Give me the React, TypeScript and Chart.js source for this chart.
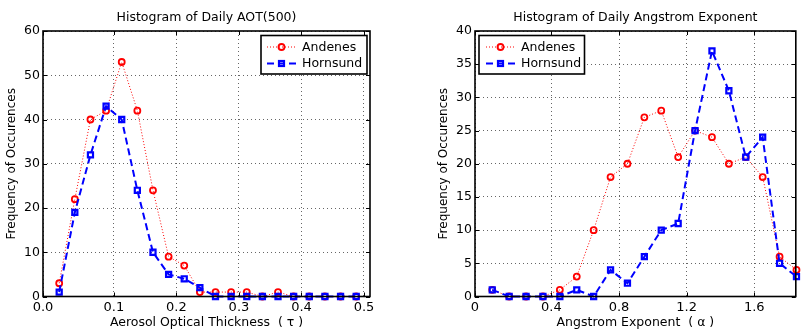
import React, { useEffect, useRef } from "react";
import { Chart, registerables } from "chart.js";

Chart.register(...registerables);

const FONT = "'DejaVu Sans', 'Liberation Sans', sans-serif";

// ---------- Left panel: AOT(500) ----------
const aotBins = [0.0125, 0.0375, 0.0625, 0.0875, 0.1125, 0.1375, 0.1625, 0.1875, 0.2125, 0.2375, 0.2625, 0.2875, 0.3125, 0.3375, 0.3625, 0.3875, 0.4125, 0.4375, 0.4625, 0.4875];
const aotAndenes = [3, 22, 40, 42, 53, 42, 24, 9, 7, 1, 1, 1, 1, 0, 1, 0, 0, 0, 0, 0];
const aotHornsund = [1, 19, 32, 43, 40, 24, 10, 5, 4, 2, 0, 0, 0, 0, 0, 0, 0, 0, 0, 0];
const aotXTicks = [0.1, 0.2, 0.3, 0.4, 0.5];
const aotXEdgeLabel = "0.0";

// ---------- Right panel: Angstrom exponent ----------
const angBins = [0.05, 0.15, 0.25, 0.35, 0.45, 0.55, 0.65, 0.75, 0.85, 0.95, 1.05, 1.15, 1.25, 1.35, 1.45, 1.55, 1.65, 1.75, 1.85];
const angAndenes = [1, 0, 0, 0, 1, 3, 10, 18, 20, 27, 28, 21, 25, 24, 20, 21, 18, 6, 4];
const angHornsund = [1, 0, 0, 0, 0, 1, 0, 4, 2, 6, 10, 11, 25, 37, 31, 21, 24, 5, 3];
const angXTicks = [0.4, 0.8, 1.2, 1.6];
const angXEdgeLabel = "0";

const seriesNames = ["Andenes", "Hornsund"];

type PanelCfg = {
  left: number;
  width: number;
  padLeft: number;
  padRight: number;
  xMin: number;
  xMax: number;
  xTicks: number[];
  xEdgeLabel: string;
  yMax: number;
  yStep: number;
  bins: number[];
  andenes: number[];
  hornsund: number[];
  title: string;
  xTitle: string;
  legend: { x0: number; y0: number; x1: number; y1: number; lx0: number; lx1: number; tx: number; rows: number[] };
};

const framePlugin = {
  id: "frame",
  afterDatasetsDraw(chart: any, _args: any, opts: any) {
    const { ctx, chartArea: a } = chart;
    const xs = chart.scales.x;
    const ys = chart.scales.y;
    ctx.save();
    ctx.setLineDash([]);
    // inward tick marks
    ctx.strokeStyle = "#000";
    ctx.lineWidth = 1;
    const tl = 4;
    xs.ticks.forEach((t: any) => {
      const px = Math.round(xs.getPixelForValue(t.value)) + 0.5;
      ctx.beginPath();
      ctx.moveTo(px, a.bottom);
      ctx.lineTo(px, a.bottom - tl);
      ctx.moveTo(px, a.top);
      ctx.lineTo(px, a.top + tl);
      ctx.stroke();
    });
    ys.ticks.forEach((t: any) => {
      const py = Math.round(ys.getPixelForValue(t.value)) + 0.5;
      ctx.beginPath();
      ctx.moveTo(a.left, py);
      ctx.lineTo(a.left + tl, py);
      ctx.moveTo(a.right, py);
      ctx.lineTo(a.right - tl, py);
      ctx.stroke();
    });
    // box
    ctx.lineWidth = 1.6;
    ctx.strokeRect(a.left, a.top, a.right - a.left, a.bottom - a.top);

    // legend
    const lg = opts.legend;
    ctx.fillStyle = "#fff";
    ctx.fillRect(lg.x0, lg.y0, lg.x1 - lg.x0, lg.y1 - lg.y0);
    ctx.strokeStyle = "#000";
    ctx.lineWidth = 1.6;
    ctx.strokeRect(lg.x0, lg.y0, lg.x1 - lg.x0, lg.y1 - lg.y0);
    const mx = (lg.lx0 + lg.lx1) / 2;
    seriesNames.forEach((name: string, i: number) => {
      const y = lg.rows[i];
      ctx.beginPath();
      if (i === 0) {
        ctx.strokeStyle = "#ff0000";
        ctx.lineWidth = 1;
        ctx.setLineDash([1, 2]);
      } else {
        ctx.strokeStyle = "#0000ff";
        ctx.lineWidth = 2;
        ctx.setLineDash([7, 4]);
      }
      ctx.moveTo(lg.lx0, y);
      ctx.lineTo(lg.lx1, y);
      ctx.stroke();
      ctx.setLineDash([]);
      if (i === 0) {
        ctx.lineWidth = 1.8;
        ctx.beginPath();
        ctx.arc(mx, y, 3, 0, Math.PI * 2);
        ctx.stroke();
      } else {
        ctx.lineWidth = 2.2;
        ctx.strokeRect(mx - 2.5, y - 2.5, 5, 5);
      }
      ctx.fillStyle = "#000";
      ctx.font = `12.5px ${FONT}`;
      ctx.textAlign = "left";
      ctx.textBaseline = "middle";
      ctx.fillText(name, lg.tx, y + 0.5);
    });

    // title
    ctx.fillStyle = "#000";
    ctx.font = `12.5px ${FONT}`;
    ctx.textAlign = "center";
    ctx.textBaseline = "alphabetic";
    ctx.fillText(opts.title, (a.left + a.right) / 2, 20.7);
    ctx.restore();
  },
};

function Panel({ cfg }: { cfg: PanelCfg }) {
  const ref = useRef<HTMLCanvasElement | null>(null);
  useEffect(() => {
    if (!ref.current) return;
    const xTickFont = { family: FONT, size: 13 };
    const yTickFont = { family: FONT, size: 12.5 };
    const chart = new Chart(ref.current, {
      type: "line",
      data: {
        datasets: [
          {
            label: seriesNames[1],
            data: cfg.bins.map((b, i) => ({ x: b, y: cfg.hornsund[i] })),
            borderColor: "#0000ff",
            borderWidth: 2,
            borderDash: [7, 4],
            pointStyle: "rect",
            pointRadius: 3.6,
            pointBorderWidth: 2.2,
            pointBorderColor: "#0000ff",
            pointBackgroundColor: "rgba(0,0,0,0)",
            tension: 0,
            fill: false,
            clip: false,
            order: 0,
          },
          {
            label: seriesNames[0],
            data: cfg.bins.map((b, i) => ({ x: b, y: cfg.andenes[i] })),
            borderColor: "#ff0000",
            borderWidth: 1,
            borderDash: [1, 2],
            pointStyle: "circle",
            pointRadius: 3,
            pointBorderWidth: 1.8,
            pointBorderColor: "#ff0000",
            pointBackgroundColor: "rgba(0,0,0,0)",
            tension: 0,
            fill: false,
            clip: false,
            order: 1,
          },
        ],
      },
      options: {
        responsive: false,
        animation: false,
        events: [],
        layout: { padding: { top: 31, bottom: 0, left: cfg.padLeft, right: cfg.padRight } },
        plugins: {
          legend: { display: false },
          title: { display: false },
          tooltip: { enabled: false },
          frame: { legend: cfg.legend, title: cfg.title },
        } as any,
        scales: {
          x: {
            type: "linear",
            min: cfg.xMin,
            max: cfg.xMax,
            afterBuildTicks: (s: any) => {
              s.ticks = [cfg.xMin, ...cfg.xTicks].map((v) => ({ value: v }));
            },
            afterFit: (s: any) => {
              s.height = 34.5;
            },
            ticks: {
              autoSkip: false,
              maxRotation: 0,
              padding: 3.5,
              color: "#000",
              font: xTickFont,
              callback: (v: any) => (v === cfg.xMin ? cfg.xEdgeLabel : Number(v).toFixed(1)),
            },
            grid: { color: "#666", lineWidth: 1, drawTicks: false },
            border: { display: false, dash: [1, 3] },
            title: {
              display: true,
              text: cfg.xTitle,
              color: "#000",
              font: { family: FONT, size: 12.5 },
              padding: { top: 0, bottom: 0.4 },
            },
          },
          y: {
            type: "linear",
            min: 0,
            max: cfg.yMax,
            afterFit: (s: any) => {
              s.width = 43;
            },
            ticks: { stepSize: cfg.yStep, padding: 3, color: "#000", font: yTickFont },
            grid: { color: "#666", lineWidth: 1, drawTicks: false },
            border: { display: false, dash: [1, 3] },
            title: {
              display: true,
              text: "Frequency of Occurences",
              color: "#000",
              font: { family: FONT, size: 12 },
              padding: { top: 4.8, bottom: 0 },
            },
          },
        },
      } as any,
      plugins: [framePlugin as any],
    });
    return () => chart.destroy();
  }, [cfg]);
  return (
    <canvas
      ref={ref}
      width={cfg.width}
      height={331}
      style={{ position: "absolute", left: cfg.left, top: 0, width: cfg.width, height: 331 }}
    />
  );
}

const leftCfg: PanelCfg = {
  left: 0,
  width: 400,
  padLeft: 0,
  padRight: 30,
  xMin: -0.0134,
  xMax: 0.5096,
  xTicks: aotXTicks,
  xEdgeLabel: aotXEdgeLabel,
  yMax: 60,
  yStep: 10,
  bins: aotBins,
  andenes: aotAndenes,
  hornsund: aotHornsund,
  title: "Histogram of Daily AOT(500)",
  xTitle: "Aerosol Optical Thickness  ( τ )",
  legend: { x0: 261, y0: 35.5, x1: 367, y1: 74, lx0: 267, lx1: 296, tx: 302, rows: [47, 63.5] },
};

const rightCfg: PanelCfg = {
  left: 400,
  width: 402,
  padLeft: 32,
  padRight: 1,
  xMin: -0.052,
  xMax: 1.846,
  xTicks: angXTicks,
  xEdgeLabel: angXEdgeLabel,
  yMax: 40,
  yStep: 5,
  bins: angBins,
  andenes: angAndenes,
  hornsund: angHornsund,
  title: "Histogram of Daily Angstrom Exponent",
  xTitle: "Angstrom Exponent  ( α )",
  legend: { x0: 79, y0: 35.5, x1: 184.5, y1: 74, lx0: 86, lx1: 115, tx: 121, rows: [47, 63.5] },
};

export default function App() {
  return (
    <div
      style={{
        position: "fixed",
        left: 0,
        top: 0,
        width: 802,
        height: 331,
        overflow: "hidden",
        background: "#fff",
      }}
    >
      <Panel cfg={leftCfg} />
      <Panel cfg={rightCfg} />
    </div>
  );
}
